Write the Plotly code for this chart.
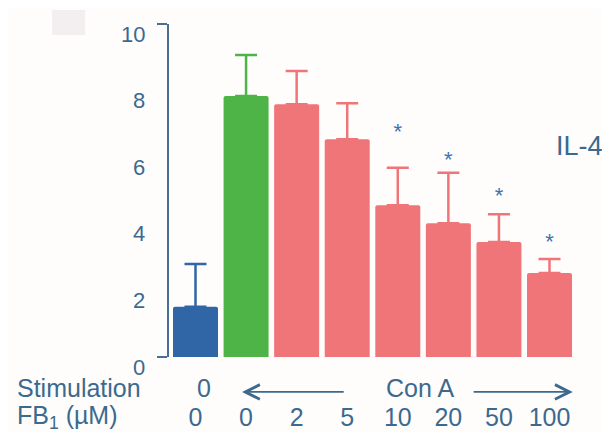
import plotly.graph_objects as go

# ---- data ----
categories = ["ctrl", "conA0", "fb2", "fb5", "fb10", "fb20", "fb50", "fb100"]
fb_labels = ["0", "0", "2", "5", "10", "20", "50", "100"]
il4_mean = [1.51, 7.84, 7.59, 6.54, 4.56, 4.02, 3.45, 2.52]
il4_err = [1.28, 1.23, 1.00, 1.08, 1.12, 1.51, 0.84, 0.42]
bar_colors = ["#3066a6", "#4fb447", "#f07579", "#f07579", "#f07579", "#f07579", "#f07579", "#f07579"]
sig_index = [4, 5, 6, 7]
sig_marker_y = [6.70, 5.86, 4.80, 3.42]
y_ticks = [0, 2, 4, 6, 8, 10]

TXT = "#3b6a8e"
FONT = "Liberation Sans, Arial, sans-serif"

fig = go.Figure()
for i, c in enumerate(categories):
    fig.add_trace(go.Bar(
        x=[i], y=[il4_mean[i]], width=0.89,
        marker=dict(color=bar_colors[i], line=dict(width=0), cornerradius=2),
        error_y=dict(type="data", symmetric=False, array=[il4_err[i]], arrayminus=[0],
                     color=bar_colors[i], thickness=2.5, width=11),
        showlegend=False, hoverinfo="skip",
    ))

# significance stars
fig.add_trace(go.Scatter(
    x=sig_index, y=sig_marker_y, mode="text", text=["*"] * len(sig_index),
    textfont=dict(size=22, color="#3d74b0", family=FONT), showlegend=False, hoverinfo="skip",
))

annotations = []
# y tick labels (offset below ticks as in the original)
for v in y_ticks:
    annotations.append(dict(xref="paper", yref="y", x=0, y=v, xanchor="right", yanchor="middle",
                            xshift=-22, yshift=-10, text=str(v), showarrow=False,
                            font=dict(size=22, color=TXT, family=FONT)))
# row titles
annotations.append(dict(xref="paper", yref="paper", x=-0.349, y=-0.093, xanchor="left", yanchor="middle",
                        text="Stimulation", showarrow=False, font=dict(size=25, color=TXT, family=FONT)))
annotations.append(dict(xref="paper", yref="paper", x=-0.349, y=-0.18, xanchor="left", yanchor="middle",
                        text="FB<sub>1</sub> (µM)", showarrow=False, font=dict(size=25, color=TXT, family=FONT)))
annotations.append(dict(xref="x", yref="paper", x=0.17, y=-0.093, xanchor="center", yanchor="middle",
                        text="0", showarrow=False, font=dict(size=25, color=TXT, family=FONT)))
annotations.append(dict(xref="x", yref="paper", x=4.44, y=-0.093, xanchor="center", yanchor="middle",
                        text="Con A", showarrow=False, font=dict(size=25, color=TXT, family=FONT)))
# arrows
annotations.append(dict(xref="x", yref="paper", x=0.92, y=-0.105, ax=2.96, ay=0,
                        axref="x", ayref="pixel", text="", showarrow=True,
                        arrowhead=5, arrowsize=1.6, arrowwidth=1.8, arrowcolor=TXT))
annotations.append(dict(xref="x", yref="paper", x=7.46, y=-0.105, ax=5.47, ay=0,
                        axref="x", ayref="pixel", text="", showarrow=True,
                        arrowhead=5, arrowsize=1.6, arrowwidth=1.8, arrowcolor=TXT))
# IL-4 label
annotations.append(dict(xref="paper", yref="paper", x=0.93, y=0.634, xanchor="center", yanchor="middle",
                        text="IL-4", showarrow=False, font=dict(size=27, color=TXT, family=FONT)))

fig.update_layout(
    width=602, height=424,
    margin=dict(l=161, r=0, t=16, b=75),
    paper_bgcolor="#fffdfc", plot_bgcolor="#fffdfc",
    bargap=0.11,
    annotations=annotations,
    shapes=[dict(type="rect", xref="paper", yref="paper", x0=-0.265, x1=-0.19, y0=0.967, y1=1.042,
                 fillcolor="#f3eff1", line=dict(width=0), layer="below")],
    xaxis=dict(range=[-0.524, 8.196], tickmode="array", tickvals=list(range(len(categories))),
               ticktext=fb_labels, showline=False, showgrid=False, zeroline=False, ticks="",
               tickfont=dict(size=25, color=TXT, family=FONT), ticklabelstandoff=43),
    yaxis=dict(range=[0, 10], tickmode="array", tickvals=[0, 10], showticklabels=False,
               ticks="outside", ticklen=10, tickwidth=2, tickcolor="#4a6f93",
               showline=True, linecolor="#4a6f93", linewidth=2,
               showgrid=False, zeroline=False),
)

fig.write_html("out.html")
